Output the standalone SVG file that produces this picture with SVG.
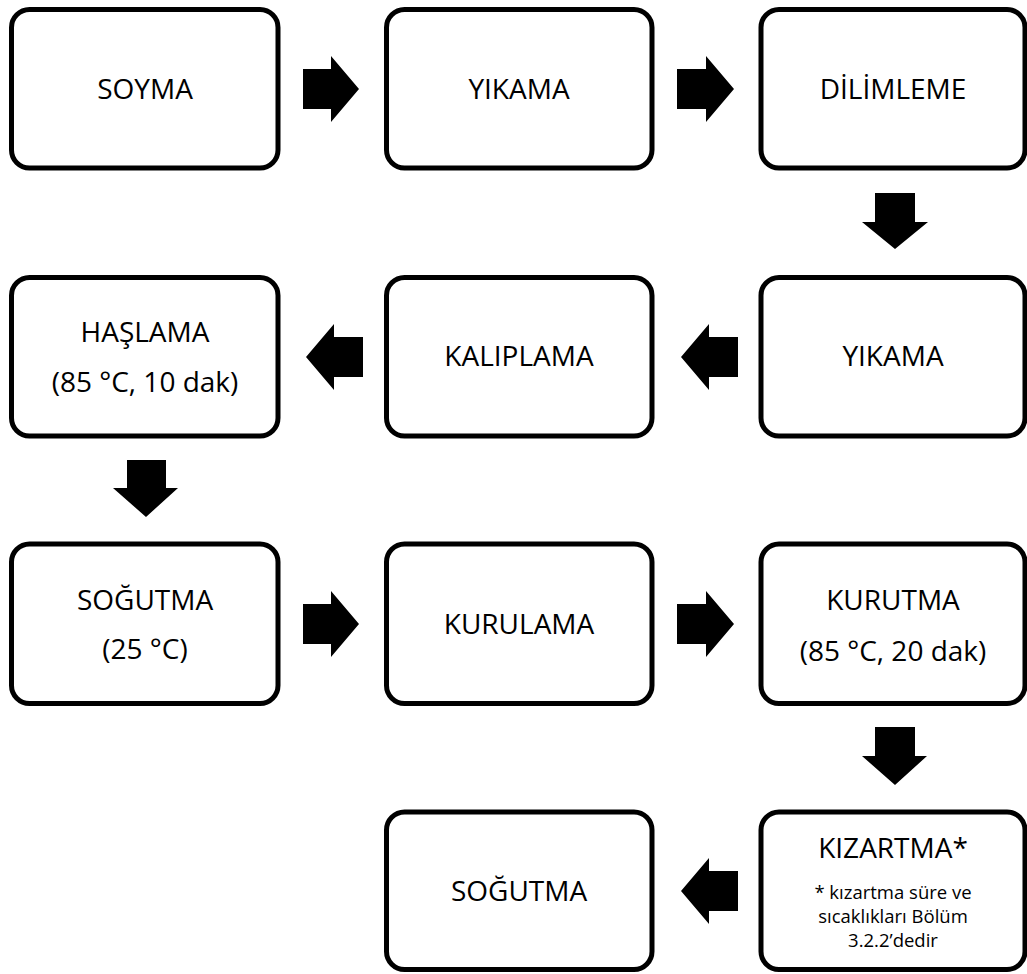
<svg xmlns="http://www.w3.org/2000/svg" width="1027" height="974" viewBox="0 0 1027 974">
<style>
.box{fill:#fff;stroke:#000;stroke-width:5}
.t{font-family:"Open Sans","Liberation Sans",sans-serif;font-size:28px;fill:#000;text-anchor:middle}
.s{font-family:"Open Sans","Liberation Sans",sans-serif;font-size:18.5px;fill:#000;text-anchor:middle}
.arr{fill:#000}
</style>
<rect width="1027" height="974" fill="#fff"/>
<g id="n1"><rect class="box" x="11.5" y="9.5" width="266.5" height="158.5" rx="18"/><text class="t" x="145" y="99">SOYMA</text></g>
<g id="n2"><rect class="box" x="386.5" y="9.5" width="265.5" height="158.5" rx="18"/><text class="t" x="519" y="99">YIKAMA</text></g>
<g id="n3"><rect class="box" x="761" y="9.5" width="264" height="158.5" rx="18"/><text class="t" x="893" y="99">DİLİMLEME</text></g>
<g id="n4"><rect class="box" x="761" y="277.5" width="264" height="158.5" rx="18"/><text class="t" x="893" y="366">YIKAMA</text></g>
<g id="n5"><rect class="box" x="386.5" y="277.5" width="265.5" height="158.5" rx="18"/><text class="t" x="519" y="366">KALIPLAMA</text></g>
<g id="n6"><rect class="box" x="11.5" y="277.5" width="266.5" height="158.5" rx="18"/><text class="t" x="145" y="342">HAŞLAMA</text><text class="t" x="145" y="392">(85 °C, 10 dak)</text></g>
<g id="n7"><rect class="box" x="11.5" y="544" width="266.5" height="159.5" rx="18"/><text class="t" x="145" y="610">SOĞUTMA</text><text class="t" x="145" y="659">(25 °C)</text></g>
<g id="n8"><rect class="box" x="386.5" y="544" width="265.5" height="159.5" rx="18"/><text class="t" x="519" y="634">KURULAMA</text></g>
<g id="n9"><rect class="box" x="761" y="544" width="264" height="159.5" rx="18"/><text class="t" x="893" y="610">KURUTMA</text><text class="t" x="893" y="661">(85 °C, 20 dak)</text></g>
<g id="n10"><rect class="box" x="761" y="812" width="264" height="157.5" rx="18"/><text class="t" x="893" y="858">KIZARTMA*</text><text class="s" x="893" y="899">* kızartma süre ve</text><text class="s" x="893" y="923">sıcaklıkları Bölüm</text><text class="s" x="893" y="947">3.2.2’dedir</text></g>
<g id="n11"><rect class="box" x="386.5" y="812" width="265.5" height="157.5" rx="18"/><text class="t" x="519" y="901">SOĞUTMA</text></g>
<g id="connectors" class="arr">
<polygon points="303,69 331,69 331,56 359,89 331,122 331,109 303,109"/>
<polygon points="677,69 706,69 706,56 734,89 706,122 706,109 677,109"/>
<polygon points="875,193 915,193 915,222 928,222 895,249 862,222 875,222"/>
<polygon points="738,337 709,337 709,324 681,357 709,390 709,377 738,377"/>
<polygon points="363,337 334,337 334,324 306,357 334,390 334,377 363,377"/>
<polygon points="127,460 166,460 166,488 178,488 146,517 113,488 127,488"/>
<polygon points="303,604 331,604 331,591 359,624 331,657 331,644 303,644"/>
<polygon points="677,604 706,604 706,591 734,624 706,657 706,644 677,644"/>
<polygon points="875,727 915,727 915,756 927,756 895,785 862,756 875,756"/>
<polygon points="738,871 709,871 709,858 681,891 709,924 709,911 738,911"/>
</g>
</svg>
